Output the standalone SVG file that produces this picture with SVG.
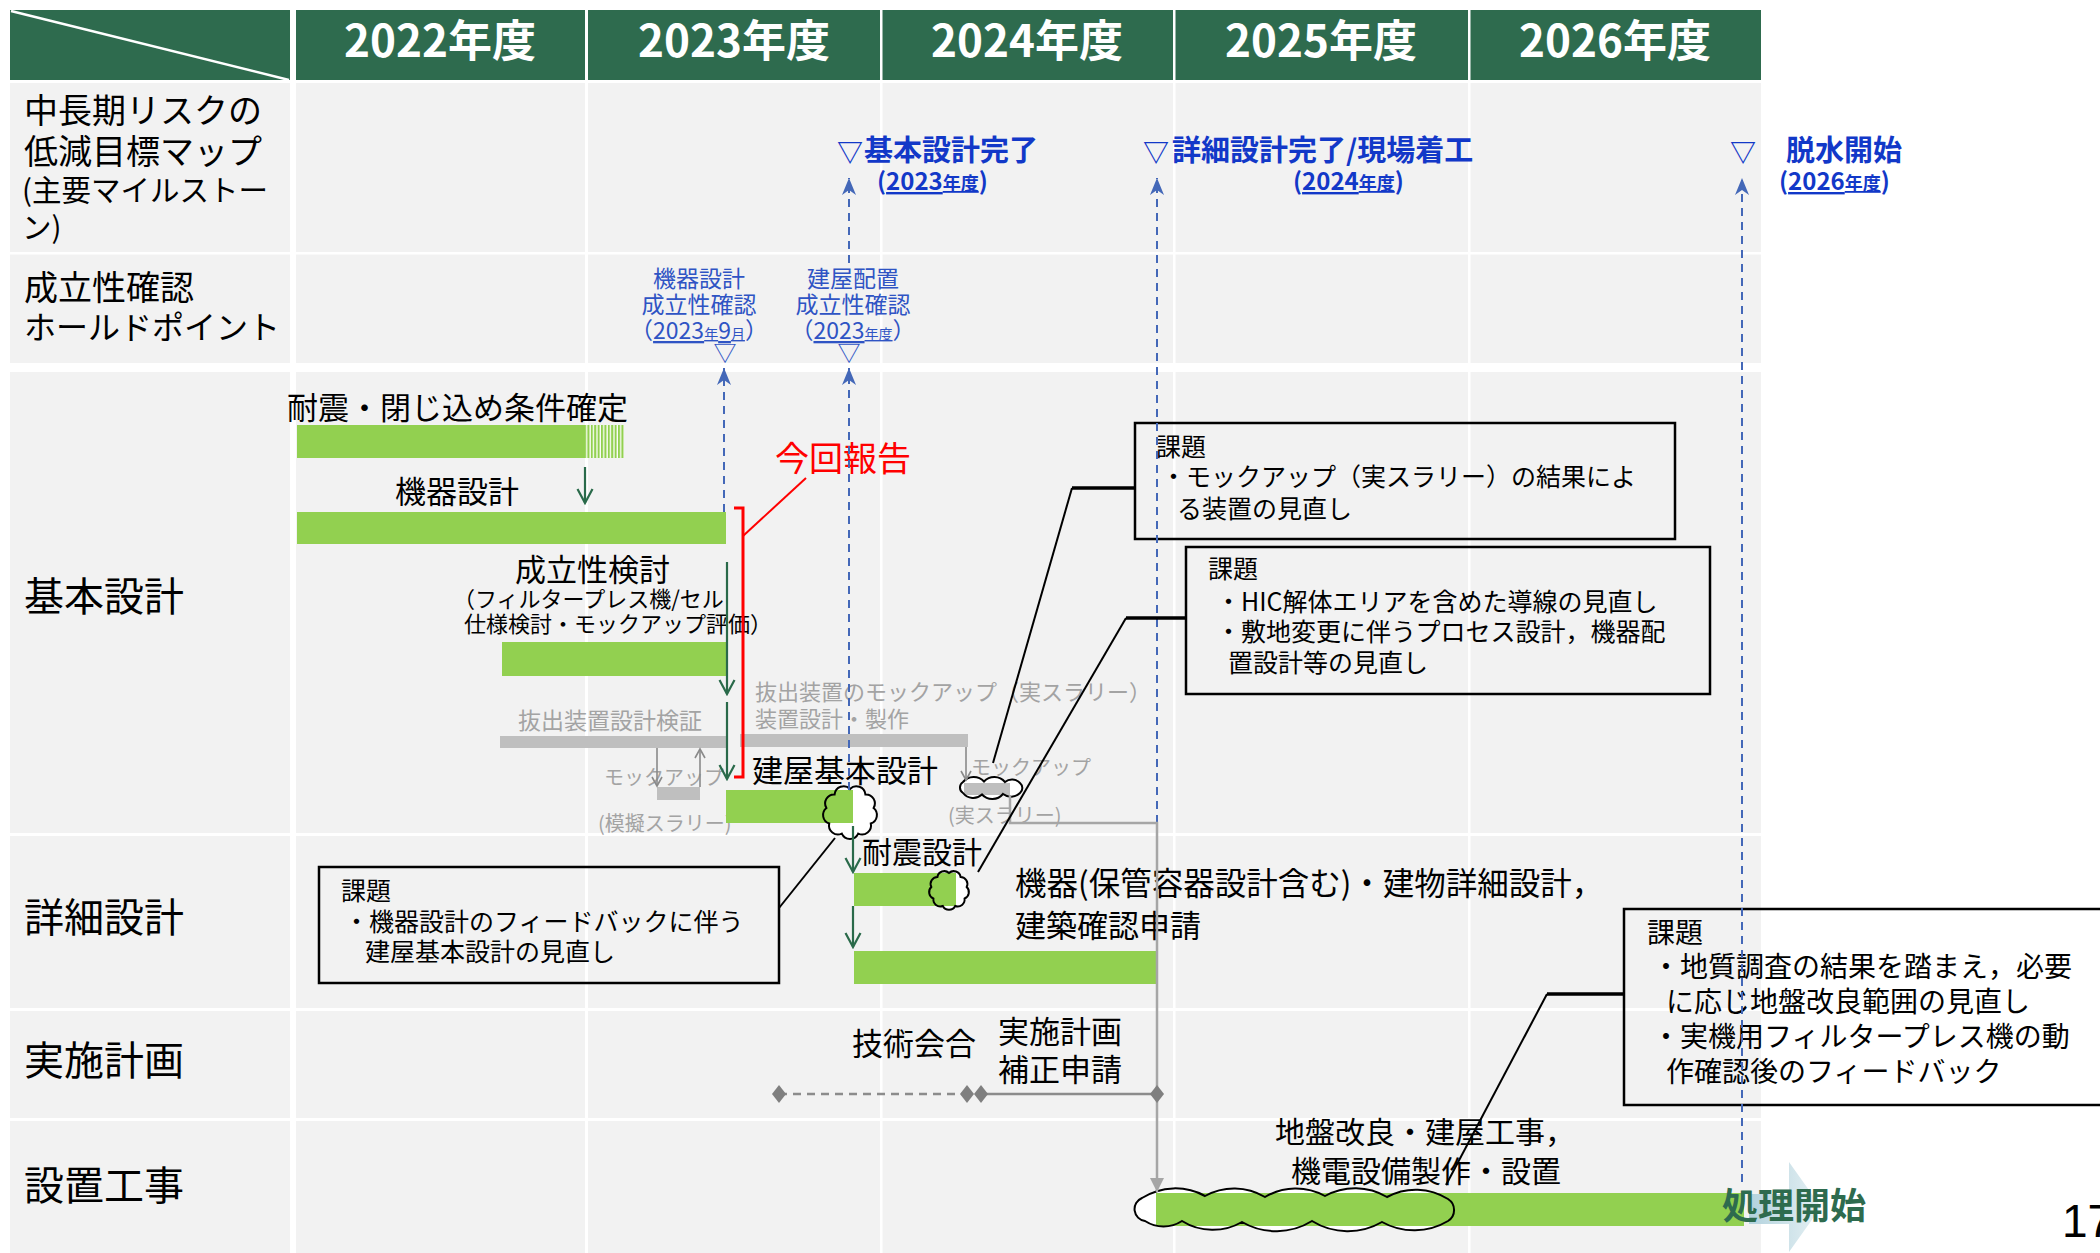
<svg xmlns="http://www.w3.org/2000/svg" width="2100" height="1253" viewBox="0 0 2100 1253">
<defs>
<style>
text{font-family:"Noto Sans CJK JP","Noto Sans",sans-serif;fill:#000}
.hd{font-size:44px;font-weight:700;fill:#fff;text-anchor:middle}
.lb{font-size:34px}
.lbk{font-size:32px}
.lb2{font-size:29.5px}
.big{font-size:40px}
.ms{font-size:29px;font-weight:700;fill:#1238c8}
.tri{font-size:26px;font-weight:700;fill:#1238c8;text-anchor:middle}
.msp{font-size:24px;font-weight:700;fill:#1238c8}
.hp{font-size:23px;fill:#2f54c4;text-anchor:middle}
.t31{font-size:31px}
.t22{font-size:22px}
.t20{font-size:20px}
.g{fill:#a3a3a3}
.bx{fill:none;stroke:#000;stroke-width:2.5}
.bt{font-size:25px}
.bt4{font-size:28px}
.bar{fill:#92d050}
.gbar{fill:#bfbfbf}
.bd{fill:none;stroke:#4468b8;stroke-width:2;stroke-dasharray:8 6}
.ga{fill:none;stroke:#2a6a4a;stroke-width:2.2;marker-end:url(#vG)}
.sa{fill:none;stroke:#8a8a8a;stroke-width:1.6;marker-end:url(#vS)}
.cl{fill:none;stroke:#000;stroke-width:2}
.clh{fill:none;stroke:#000;stroke-width:3.5}
.dm{fill:#7f7f7f}
.u{text-decoration:underline}
</style>
<marker id="stB" viewBox="-20 -10 22 20" refX="0" refY="0" markerWidth="22" markerHeight="20" markerUnits="userSpaceOnUse" orient="auto"><path d="M0,0 L-17,-7 L-12,0 L-17,7 Z" fill="#4468b8"/></marker>
<marker id="vG" viewBox="-18 -10 20 20" refX="0" refY="0" markerWidth="20" markerHeight="20" markerUnits="userSpaceOnUse" orient="auto"><path d="M-14,-7.5 L0,0 L-14,7.5" fill="none" stroke="#2a6a4a" stroke-width="2.2"/></marker>
<marker id="vS" viewBox="-12 -7 14 14" refX="0" refY="0" markerWidth="14" markerHeight="14" markerUnits="userSpaceOnUse" orient="auto"><path d="M-9,-5 L0,0 L-9,5" fill="none" stroke="#8a8a8a" stroke-width="1.6"/></marker>
<marker id="triG" viewBox="-16 -9 18 18" refX="0" refY="0" markerWidth="18" markerHeight="18" markerUnits="userSpaceOnUse" orient="auto"><path d="M0,0 L-14,-7 L-14,7 Z" fill="#a6a6a6"/></marker>
<pattern id="hatch" x="584" y="0" width="3.4" height="10" patternUnits="userSpaceOnUse"><rect x="0" y="0" width="2.1" height="10" fill="#92d050"/></pattern>
<linearGradient id="arrG" x1="0" y1="0" x2="1" y2="0"><stop offset="0" stop-color="#b3d2dd"/><stop offset="1" stop-color="#e6f1f4"/></linearGradient>
<path id="c1" d="M850,789 A9,9 0 0 1 865.4,794.4 A9,9 0 0 1 873.6,808 A9,9 0 0 1 870.8,823.5 A9,9 0 0 1 858.2,833.6 A9,9 0 0 1 841.8,833.6 A9,9 0 0 1 829.2,823.5 A9,9 0 0 1 826.4,808 A9,9 0 0 1 834.6,794.4 A9,9 0 0 1 850,789 Z"/>
<path id="c2" d="M949,873 A7,7 0 0 1 960.6,877 A7,7 0 0 1 966.7,887 A7,7 0 0 1 964.6,898.5 A7,7 0 0 1 955.2,906 A7,7 0 0 1 942.8,906 A7,7 0 0 1 933.4,898.5 A7,7 0 0 1 931.3,887 A7,7 0 0 1 937.4,877 A7,7 0 0 1 949,873 Z"/>
<path id="c3" d="M963,782 A14,14 0 0 1 984,781.5 A14,14 0 0 1 1005,782 A11,11 0 0 1 1020,783 A6.5,6.5 0 0 1 1020,793 A13,13 0 0 1 1003,794 A14,14 0 0 1 982,794.5 A13,13 0 0 1 963,793 A6.5,6.5 0 0 1 963,782 Z"/>
<path id="c4" d="M1142,1198 A62,62 0 0 1 1205,1196 A60,60 0 0 1 1265,1197 A60,60 0 0 1 1325,1196 A62,62 0 0 1 1387,1197 A60,60 0 0 1 1448,1199 A13,13 0 0 1 1448,1221 A66,66 0 0 1 1382,1222 A68,68 0 0 1 1312,1221 A68,68 0 0 1 1242,1222 A58,58 0 0 1 1182,1221 A34,34 0 0 1 1145,1221 A12,12 0 0 1 1142,1198 Z"/>
</defs>

<rect x="0" y="0" width="2100" height="1253" fill="#fff"/>

<g id="table">
<rect x="10" y="10" width="1751" height="70" fill="#2e6b4e"/>
<rect x="10" y="83" width="1751" height="1170" fill="#f2f2f2"/>
<g fill="#fff">
<rect x="290" y="10" width="6" height="1243"/>
<rect x="585" y="10" width="3" height="1243"/>
<rect x="880" y="10" width="2.5" height="1243"/>
<rect x="1173" y="10" width="2.5" height="1243"/>
<rect x="1468" y="10" width="2.5" height="1243"/>
<rect x="10" y="252" width="1751" height="2.5"/>
<rect x="10" y="363" width="1751" height="9"/>
<rect x="10" y="833" width="1751" height="3"/>
<rect x="10" y="1008" width="1751" height="3"/>
<rect x="10" y="1118" width="1751" height="3"/>
</g>
<line x1="11" y1="11" x2="289" y2="80" stroke="#fff" stroke-width="2.5"/>
<text class="hd" x="440" y="57">2022年度</text>
<text class="hd" x="734" y="57">2023年度</text>
<text class="hd" x="1027" y="57">2024年度</text>
<text class="hd" x="1321" y="57">2025年度</text>
<text class="hd" x="1615" y="57">2026年度</text>
<text class="lb" x="24" y="123">中長期リスクの</text>
<text class="lb" x="24" y="164">低減目標マップ</text>
<text class="lb2" x="22" y="201">(主要マイルストー</text>
<text class="lb2" x="22" y="238">ン)</text>
<text class="lb" x="24" y="300">成立性確認</text>
<text class="lbk" x="24" y="339">ホールドポイント</text>
<text class="big" x="24" y="611">基本設計</text>
<text class="big" x="24" y="932">詳細設計</text>
<text class="big" x="24" y="1075">実施計画</text>
<text class="big" x="24" y="1200">設置工事</text>
</g>

<g id="milestones">
<text class="tri" x="850" y="162">▽</text>
<text class="ms" x="864" y="161">基本設計完了</text>
<text class="msp" x="877" y="190">(<tspan class="u">2023<tspan font-size="18">年度</tspan></tspan>)</text>
<text class="tri" x="1156" y="162">▽</text>
<text class="ms" x="1172" y="161">詳細設計完了/現場着工</text>
<text class="msp" x="1293" y="190">(<tspan class="u">2024<tspan font-size="18">年度</tspan></tspan>)</text>
<text class="tri" x="1743" y="162">▽</text>
<text class="ms" x="1786" y="161">脱水開始</text>
<text class="msp" x="1779" y="190">(<tspan class="u">2026<tspan font-size="18">年度</tspan></tspan>)</text>
</g>

<g id="holdpoint1">
<text class="hp" x="699" y="287">機器設計</text>
<text class="hp" x="699" y="313">成立性確認</text>
<text class="hp" x="699" y="339">（<tspan class="u">2023<tspan font-size="14">年</tspan>9<tspan font-size="14">月</tspan></tspan>）</text>
<text class="hp" x="725" y="361" font-size="19">▽</text>
</g>
<g id="holdpoint2">
<text class="hp" x="853" y="287">建屋配置</text>
<text class="hp" x="853" y="313">成立性確認</text>
<text class="hp" x="853" y="339">（<tspan class="u">2023<tspan font-size="14">年度</tspan></tspan>）</text>
<text class="hp" x="849" y="361" font-size="19">▽</text>
</g>

<g id="clouds-fill">
<use href="#c1" fill="#fff"/>
<use href="#c2" fill="#fff"/>
<use href="#c3" fill="#fff"/>
<use href="#c4" fill="#fff"/>
</g>

<g id="basic-design">
<text class="t31" x="287" y="419">耐震・閉じ込め条件確定</text>
<rect class="bar" x="297" y="425" width="287" height="33"/>
<rect x="584" y="425" width="40" height="33" fill="#fff"/>
<rect x="584" y="425" width="40" height="33" fill="url(#hatch)"/>
<text class="t31" x="395" y="503">機器設計</text>
<rect class="bar" x="297" y="512" width="429" height="32"/>
<text x="775" y="471" font-size="34" style="fill:#ff0000">今回報告</text>
<text class="t31" x="515" y="581">成立性検討</text>
<text class="t22" x="453" y="607">（フィルタープレス機/セル</text>
<text class="t22" x="464" y="632">仕様検討・モックアップ評価）</text>
<rect class="bar" x="502" y="642" width="225" height="34"/>
<text class="g" x="755" y="700" font-size="22">抜出装置のモックアップ（実スラリー）</text>
<text class="g" x="755" y="727" font-size="22">装置設計・製作</text>
<text class="g" x="518" y="729" font-size="23">抜出装置設計検証</text>
<rect class="gbar" x="500" y="736" width="228" height="12"/>
<rect class="gbar" x="740" y="734" width="228" height="13"/>
<text class="g t20" x="604" y="785">モックアップ</text>
<rect class="gbar" x="657" y="787" width="43" height="13"/>
<text class="g t20" x="598" y="831">(模擬スラリー)</text>
<text class="t31" x="752" y="782">建屋基本設計</text>
<rect class="bar" x="726" y="790" width="127" height="33"/>
<text class="g t20" x="971" y="775">モックアップ</text>
<rect class="gbar" x="964" y="783" width="46" height="12"/>
<text class="g t20" x="948" y="823">(実スラリー)</text>
</g>

<g id="detail-design">
<text x="862" y="863" font-size="30">耐震設計</text>
<rect class="bar" x="854" y="873" width="102" height="33"/>
<text x="1015" y="895" font-size="31.5">機器(保管容器設計含む)・建物詳細設計，</text>
<text class="t31" x="1015" y="937">建築確認申請</text>
<rect class="bar" x="854" y="951" width="302" height="33"/>
</g>

<g id="plan">
<text class="t31" x="852" y="1055">技術会合</text>
<text class="t31" x="998" y="1043">実施計画</text>
<text class="t31" x="998" y="1081">補正申請</text>
</g>

<g id="construction">
<text x="1275" y="1143" font-size="30">地盤改良・建屋工事，</text>
<text x="1291" y="1182" font-size="30">機電設備製作・設置</text>
<path d="M1749,1194 L1789,1194 L1789,1162 L1821,1207 L1789,1252 L1789,1224 L1749,1224 Z" fill="url(#arrG)"/>
<rect class="bar" x="1156" y="1193" width="588" height="33"/>
<text x="1722" y="1219" font-size="36" font-weight="700" style="fill:#2e6b4e">処理開始</text>
<text x="2062" y="1237" font-size="46" style="font-family:'Liberation Sans',sans-serif">17</text>
</g>

<g id="clouds-outline" fill="none" stroke="#000" stroke-width="2">
<use href="#c1"/>
<use href="#c2"/>
<use href="#c3"/>
<use href="#c4"/>
</g>

<g id="issue1">
<rect class="bx" x="1135" y="423" width="540" height="116"/>
<text class="bt" x="1156" y="456">課題</text>
<text class="bt" x="1161" y="486">・モックアップ（実スラリー）の結果によ</text>
<text class="bt" x="1177" y="518">る装置の見直し</text>
</g>
<g id="issue2">
<rect class="bx" x="1186" y="547" width="524" height="147"/>
<text class="bt" x="1208" y="578">課題</text>
<text class="bt" x="1216" y="611">・HIC解体エリアを含めた導線の見直し</text>
<text class="bt" x="1216" y="641">・敷地変更に伴うプロセス設計，機器配</text>
<text class="bt" x="1228" y="672">置設計等の見直し</text>
</g>
<g id="issue3">
<rect class="bx" x="319" y="867" width="460" height="116"/>
<text class="bt" x="341" y="900">課題</text>
<text class="bt" x="344" y="931">・機器設計のフィードバックに伴う</text>
<text class="bt" x="365" y="961">建屋基本設計の見直し</text>
</g>
<g id="issue4">
<rect class="bx" x="1624" y="909" width="500" height="196"/>
<text class="bt4" x="1647" y="943">課題</text>
<text class="bt4" x="1652" y="977">・地質調査の結果を踏まえ，必要</text>
<text class="bt4" x="1666" y="1012">に応じ地盤改良範囲の見直し</text>
<text class="bt4" x="1652" y="1047">・実機用フィルタープレス機の動</text>
<text class="bt4" x="1666" y="1082">作確認後のフィードバック</text>
</g>

<g id="connectors">
<path class="bd" d="M724,512 L724,368" marker-end="url(#stB)"/>
<path class="bd" d="M849,790 L849,368" marker-end="url(#stB)"/>
<path class="bd" d="M849,263 L849,178" marker-end="url(#stB)"/>
<path class="bd" d="M1157,823 L1157,178" marker-end="url(#stB)"/>
<path class="bd" d="M1742,1182 L1742,178" marker-end="url(#stB)"/>
<path class="ga" d="M585,467 L585,503"/>
<path class="ga" d="M727,562 L727,694"/>
<path class="ga" d="M727,702 L727,779"/>
<path class="ga" d="M853,826 L853,872"/>
<path class="ga" d="M853,906 L853,947"/>
<path class="sa" d="M657,748 L657,786"/>
<path class="sa" d="M700,787 L700,749"/>
<path class="sa" d="M966,747 L966,780"/>
<path d="M1010,795 L1010,823 L1157,823 L1157,1192" fill="none" stroke="#a6a6a6" stroke-width="2.5" marker-end="url(#triG)"/>
<path d="M734,508 L743,508 L743,777 L734,777" fill="none" stroke="#ff0000" stroke-width="3"/>
<path d="M743,536 L806,478" fill="none" stroke="#ff0000" stroke-width="2"/>
<path d="M779,1094 L967,1094" fill="none" stroke="#8c8c8c" stroke-width="2.5" stroke-dasharray="8 6"/>
<path d="M981,1094 L1157,1094" fill="none" stroke="#8c8c8c" stroke-width="2.5"/>
<path class="dm" d="M779,1085 L786,1094 L779,1103 L772,1094 Z"/>
<path class="dm" d="M967,1085 L974,1094 L967,1103 L960,1094 Z"/>
<path class="dm" d="M981,1085 L988,1094 L981,1103 L974,1094 Z"/>
<path class="dm" d="M1157,1085 L1164,1094 L1157,1103 L1150,1094 Z"/>
<path class="clh" d="M1135,488 L1072,488"/>
<path class="cl" d="M1072,488 L993,763"/>
<path class="clh" d="M1186,618 L1126,618"/>
<path class="cl" d="M1126,618 L978,872"/>
<path class="cl" d="M779,908 L835,838"/>
<path class="clh" d="M1624,994 L1547,994"/>
<path class="cl" d="M1547,994 L1446,1185"/>
</g>
</svg>
